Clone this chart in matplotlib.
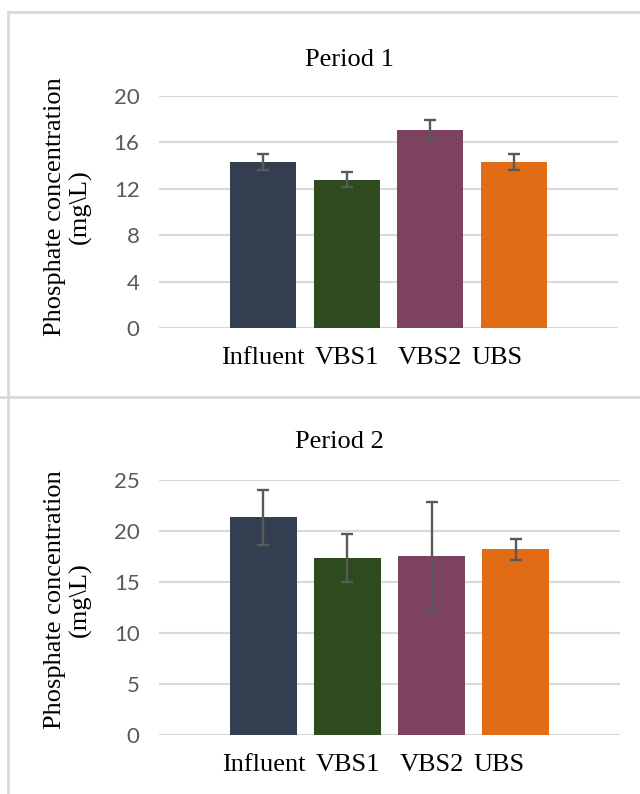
import numpy as np
import matplotlib.pyplot as plt
import matplotlib.transforms as mtransforms
from matplotlib.lines import Line2D

categories = ["Influent", "VBS1", "VBS2", "UBS"]
colors = ["#333f50", "#2e4a1f", "#7d4260", "#e26b15"]

p1_mean = [14.3, 12.8, 17.05, 14.3]
p1_err = [0.7, 0.65, 0.85, 0.7]
p1_ticks = [0, 4, 8, 12, 16, 20]

p2_mean = [21.35, 17.35, 17.55, 18.2]
p2_err = [2.7, 2.35, 5.3, 1.05]
p2_ticks = [0, 5, 10, 15, 20, 25]

W, H = 640, 794
fig = plt.figure(figsize=(W / 100, H / 100), dpi=100)
serif = "Liberation Serif"
gray = "#595959"


def panel(rect, means, errs, ticks, title, title_xy, ylab_y):
    ax = fig.add_axes(rect)
    x = np.arange(len(categories))
    ax.bar(x, means, width=0.79, color=colors, zorder=3)
    ax.errorbar(x, means, yerr=errs, fmt="none", ecolor=gray,
                elinewidth=1.7, capsize=4.3, capthick=1.7, zorder=4)
    ax.set_xlim(-1.243, 4.243)
    ax.set_ylim(ticks[0], ticks[-1])
    ax.set_yticks(ticks)
    ax.grid(axis="y", color="#d9d9d9", linewidth=1.5, zorder=0)
    ax.axhline(0, color="#d9d9d9", linewidth=1.5, zorder=1)
    for s in ax.spines.values():
        s.set_visible(False)
    ax.tick_params(axis="y", length=0, pad=14, labelsize=16, labelcolor=gray)
    for t in ax.get_yticklabels():
        t.set_family("Lato")
    ax.set_xticks(x)
    ax.set_xticklabels(categories, fontsize=19, family=serif)
    ax.tick_params(axis="x", length=0, pad=14)
    # the last label sits a bit left of its bar in the original
    lab = ax.get_xticklabels()[-1]
    lab.set_transform(lab.get_transform() + mtransforms.ScaledTranslation(
        -0.17, 0, fig.dpi_scale_trans))
    fig.text(title_xy[0] / W, 1 - title_xy[1] / H, title, ha="center",
             va="center", fontsize=19, family=serif)
    fig.text(68 / W, 1 - ylab_y / H, "Phosphate concentration\n(mg\\L)",
             rotation=90, ha="center", va="center", fontsize=19,
             family=serif, linespacing=1.2)
    return ax


panel([159 / W, 1 - 328 / H, 459 / W, 232 / H], p1_mean, p1_err, p1_ticks,
      "Period 1", (349, 60), 207)
panel([159 / W, 1 - 734.7 / H, 461 / W, 254.7 / H], p2_mean, p2_err, p2_ticks,
      "Period 2", (339, 442), 600)

# panel frames
border = "#d9d9d9"
fig.add_artist(Line2D([8 / W, 1], [1 - 12 / H, 1 - 12 / H], color=border, lw=2))
fig.add_artist(Line2D([0, 1], [1 - 396.5 / H, 1 - 396.5 / H], color=border, lw=2))
fig.add_artist(Line2D([8 / W, 8 / W], [0, 1 - 12 / H], color=border, lw=2))

fig.savefig("out.png", dpi=100)
